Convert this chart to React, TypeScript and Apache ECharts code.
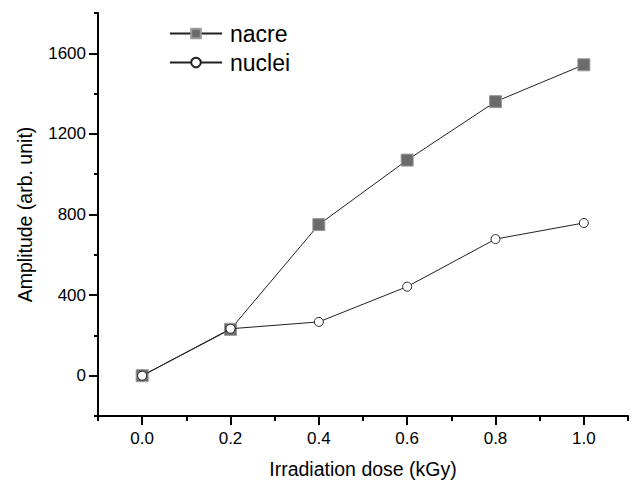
import React, { useEffect, useRef } from "react";
import * as echarts from "echarts";

const doses = [0.0, 0.2, 0.4, 0.6, 0.8, 1.0];
const nacre = [0, 230, 750, 1070, 1360, 1543];
const nuclei = [0, 233, 267, 442, 678, 758];
const yMajorTicks = [0, 400, 800, 1200, 1600];
const xMajorTicks = [0.0, 0.2, 0.4, 0.6, 0.8, 1.0];

const FONT = "'Liberation Sans', Arial, sans-serif";

export default function App() {
  const ref = useRef<HTMLDivElement>(null);
  useEffect(() => {
    if (!ref.current) return;
    const chart = echarts.init(ref.current, undefined, { renderer: "svg" });
    const axisLine = { show: true, onZero: false, lineStyle: { color: "#000", width: 2 } };
    const hiddenLine = { show: false, onZero: false };
    chart.setOption({
      animation: false,
      backgroundColor: "#fff",
      textStyle: { fontFamily: FONT },
      grid: { left: 98, right: 8, top: 13, bottom: 70, containLabel: false },
      legend: {
        orient: "vertical",
        left: 169,
        top: 22,
        padding: 0,
        itemWidth: 52,
        itemHeight: 12,
        itemGap: 6,
        textStyle: { fontSize: 23, color: "#000", fontFamily: FONT, padding: [0, 0, 0, 3] },
        data: ["nacre", "nuclei"],
      },
      xAxis: [
        {
          type: "value",
          min: -0.1,
          max: 1.1,
          interval: 0.1,
          position: "bottom",
          axisLine,
          axisTick: { show: true, length: 5, lineStyle: { color: "#000", width: 2 } },
          splitLine: { show: false },
          axisLabel: {
            fontSize: 17,
            color: "#000",
            margin: 14,
            fontFamily: FONT,
            formatter: (v: number) => {
              const k = Math.round(v * 10);
              return k >= 0 && k % 2 === 0 ? (k / 10).toFixed(1) : "";
            },
          },
          name: "Irradiation dose (kGy)",
          nameLocation: "middle",
          nameGap: 43,
          nameTextStyle: { fontSize: 19.5, color: "#000", fontFamily: FONT },
        },
        {
          type: "value",
          min: -0.1,
          max: 1.1,
          position: "bottom",
          axisLine: hiddenLine,
          axisTick: { show: true, length: 9, customValues: xMajorTicks, lineStyle: { color: "#000", width: 2 } },
          axisLabel: { show: false },
          splitLine: { show: false },
        },
      ],
      yAxis: [
        {
          type: "value",
          min: -200,
          max: 1800,
          interval: 200,
          position: "left",
          axisLine,
          axisTick: { show: true, length: 4, lineStyle: { color: "#000", width: 2 } },
          splitLine: { show: false },
          axisLabel: {
            fontSize: 17,
            color: "#000",
            margin: 12,
            fontFamily: FONT,
            formatter: (v: number) => (v >= 0 && Math.round(v) % 400 === 0 ? String(v) : ""),
          },
          name: "Amplitude (arb. unit)",
          nameLocation: "middle",
          nameGap: 63,
          nameTextStyle: { fontSize: 19.5, color: "#000", fontFamily: FONT },
        },
        {
          type: "value",
          min: -200,
          max: 1800,
          position: "left",
          axisLine: hiddenLine,
          axisTick: { show: true, length: 9, customValues: yMajorTicks, lineStyle: { color: "#000", width: 2 } },
          axisLabel: { show: false },
          splitLine: { show: false },
        },
      ],
      series: [
        {
          name: "nacre",
          type: "line",
          data: doses.map((d, i) => [d, nacre[i]]),
          symbol: "rect",
          symbolSize: 12,
          itemStyle: { color: "#6b6b6b", borderColor: "#9a9a9a", borderWidth: 1 },
          lineStyle: { color: "#222", width: 1 },
          z: 2,
        },
        {
          name: "nuclei",
          type: "line",
          data: doses.map((d, i) => [d, nuclei[i]]),
          symbol: "circle",
          symbolSize: 9,
          itemStyle: { color: "#fff", borderColor: "#222", borderWidth: 1 },
          lineStyle: { color: "#222", width: 1 },
          z: 3,
        },
      ],
    });
    return () => chart.dispose();
  }, []);
  return <div ref={ref} style={{ width: 636, height: 486, position: "absolute", left: 0, top: 0 }} />;
}
